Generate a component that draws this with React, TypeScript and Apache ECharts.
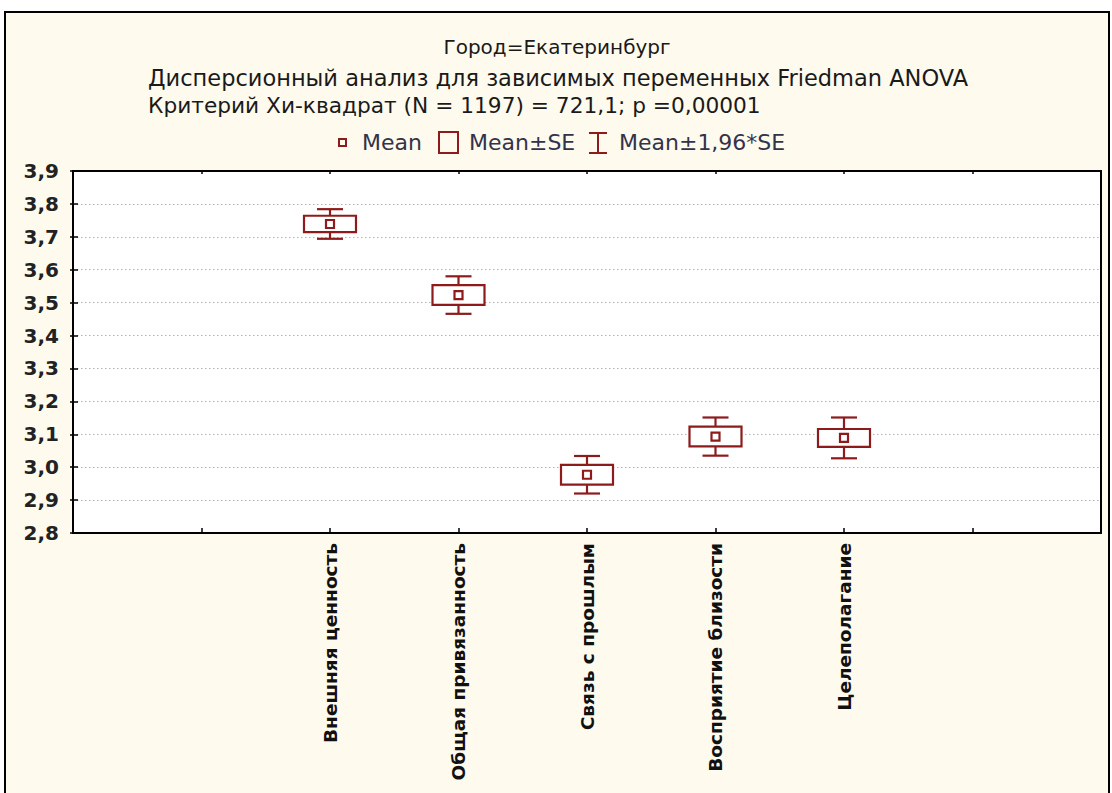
import React, { useEffect, useRef } from "react";
import * as echarts from "echarts";

const categories = [
  "Внешняя ценность",
  "Общая привязанность",
  "Связь с прошлым",
  "Восприятие близости",
  "Целеполагание",
];
const categoryPositions = [2, 3, 4, 5, 6];
const means = [3.739, 3.523, 2.977, 3.093, 3.089];
const se = [0.025, 0.03, 0.03, 0.03, 0.027];
const ci = [0.045, 0.057, 0.057, 0.058, 0.062];

const titleLines = [
  "Город=Екатеринбург",
  "Дисперсионный анализ для зависимых переменных Friedman ANOVA",
  "Критерий Хи-квадрат (N = 1197) = 721,1; p =0,00001",
];
const legendLabels = ["Mean", "Mean±SE", "Mean±1,96*SE"];

const RED = "#8e1b1b";
const FONT = "DejaVu Sans";
const TEXT_DARK = "#1a1a1a";
const LEGEND_TEXT = "#33334a";

export default function App() {
  const ref = useRef<HTMLDivElement>(null);
  useEffect(() => {
    if (!ref.current) return;
    const chart = echarts.init(ref.current, null, { renderer: "svg" });
    const data = means.map((m, i) => [categoryPositions[i], m, se[i], ci[i]]);
    const legendFont = `22px "${FONT}"`;
    const tickStyle = { color: "#000", width: 1.5 };
    chart.setOption({
      animation: false,
      backgroundColor: "#ffffff",
      graphic: [
        {
          type: "rect",
          z: -10,
          silent: true,
          shape: { x: 5, y: 12, width: 1104, height: 800 },
          style: { fill: "#fffaee", stroke: "#000", lineWidth: 2 },
        },
        {
          type: "text",
          x: 557,
          y: 47,
          style: { fill: TEXT_DARK, font: `20px "${FONT}"`, text: titleLines[0], textAlign: "center", textVerticalAlign: "middle" },
        },
        {
          type: "text",
          x: 148,
          y: 78,
          style: { fill: TEXT_DARK, font: `22.5px "${FONT}"`, text: titleLines[1], textAlign: "left", textVerticalAlign: "middle" },
        },
        {
          type: "text",
          x: 148,
          y: 105,
          style: { fill: TEXT_DARK, font: `21.7px "${FONT}"`, text: titleLines[2], textAlign: "left", textVerticalAlign: "middle" },
        },
        // legend
        {
          type: "rect",
          shape: { x: 339, y: 139, width: 7, height: 7 },
          style: { fill: "none", stroke: RED, lineWidth: 2 },
        },
        {
          type: "text",
          x: 362,
          y: 142,
          style: { text: legendLabels[0], fill: LEGEND_TEXT, font: legendFont, textVerticalAlign: "middle" },
        },
        {
          type: "rect",
          shape: { x: 439, y: 132, width: 19, height: 21 },
          style: { fill: "none", stroke: RED, lineWidth: 2 },
        },
        {
          type: "text",
          x: 469,
          y: 142,
          style: { text: legendLabels[1], fill: LEGEND_TEXT, font: legendFont, textVerticalAlign: "middle" },
        },
        {
          type: "polyline",
          shape: { points: [[589, 133], [607, 133]] },
          style: { stroke: RED, lineWidth: 2 },
        },
        {
          type: "polyline",
          shape: { points: [[589, 153], [607, 153]] },
          style: { stroke: RED, lineWidth: 2 },
        },
        {
          type: "polyline",
          shape: { points: [[598, 133], [598, 153]] },
          style: { stroke: RED, lineWidth: 2 },
        },
        {
          type: "text",
          x: 619,
          y: 142,
          style: { text: legendLabels[2], fill: LEGEND_TEXT, font: legendFont, textVerticalAlign: "middle" },
        },
      ],
      grid: {
        left: 73,
        right: 11,
        top: 171,
        bottom: 260,
        show: true,
        backgroundColor: "#ffffff",
        borderColor: "#000",
        borderWidth: 2,
      },
      xAxis: [
        {
          type: "value",
          min: 0,
          max: 8,
          interval: 1,
          position: "bottom",
          axisLine: { show: true, lineStyle: { color: "#000", width: 2 } },
          axisTick: { show: true, inside: true, length: 5, lineStyle: tickStyle },
          splitLine: { show: false },
          axisLabel: {
            rotate: 90,
            margin: 10,
            fontFamily: FONT,
            fontWeight: "bold",
            fontSize: 18.5,
            color: "#111",
            showMinLabel: false,
            showMaxLabel: false,
            formatter: (v: number) => {
              const idx = categoryPositions.indexOf(Math.round(v));
              return idx >= 0 ? categories[idx] : "";
            },
          },
        },
        {
          type: "value",
          min: 0,
          max: 8,
          interval: 1,
          position: "top",
          axisLine: { show: true, lineStyle: { color: "#000", width: 2 } },
          axisTick: { show: true, inside: true, length: 3, lineStyle: tickStyle },
          splitLine: { show: false },
          axisLabel: { show: false },
        },
      ],
      yAxis: [
        {
          type: "value",
          min: 2.8,
          max: 3.9,
          interval: 0.1,
          position: "left",
          axisLine: { show: true, lineStyle: { color: "#000", width: 2 } },
          axisTick: { show: true, inside: true, length: 5, lineStyle: tickStyle },
          splitLine: { show: true, lineStyle: { color: "#b5b5b5", type: [1.5, 2.5], width: 1.2 } },
          axisLabel: {
            margin: 14,
            fontFamily: FONT,
            fontWeight: "bold",
            fontSize: 20,
            color: "#222",
            formatter: (v: number) => v.toFixed(1).replace(".", ","),
          },
        },
        {
          type: "value",
          min: 2.8,
          max: 3.9,
          interval: 0.1,
          position: "right",
          axisLine: { show: true, lineStyle: { color: "#000", width: 2 } },
          axisTick: { show: true, inside: true, length: 3, lineStyle: tickStyle },
          splitLine: { show: false },
          axisLabel: { show: false },
        },
      ],
      series: [
        {
          type: "custom",
          xAxisIndex: 0,
          yAxisIndex: 0,
          data,
          z: 5,
          renderItem: (params: any, api: any) => {
            const x = api.value(0);
            const m = api.value(1);
            const s = api.value(2);
            const c = api.value(3);
            const pm = api.coord([x, m]);
            const pTopBox = api.coord([x, m + s]);
            const pBotBox = api.coord([x, m - s]);
            const pTopW = api.coord([x, m + c]);
            const pBotW = api.coord([x, m - c]);
            const cx = pm[0];
            const bw = 26;
            const cw = 13;
            const style = { stroke: RED, lineWidth: 2.2, fill: "none" };
            return {
              type: "group",
              children: [
                { type: "line", shape: { x1: cx, y1: pTopW[1], x2: cx, y2: pTopBox[1] }, style },
                { type: "line", shape: { x1: cx, y1: pBotBox[1], x2: cx, y2: pBotW[1] }, style },
                { type: "line", shape: { x1: cx - cw, y1: pTopW[1], x2: cx + cw, y2: pTopW[1] }, style },
                { type: "line", shape: { x1: cx - cw, y1: pBotW[1], x2: cx + cw, y2: pBotW[1] }, style },
                {
                  type: "rect",
                  shape: { x: cx - bw, y: pTopBox[1], width: 2 * bw, height: pBotBox[1] - pTopBox[1] },
                  style: { ...style, fill: "#fff" },
                },
                {
                  type: "rect",
                  shape: { x: cx - 4, y: pm[1] - 4, width: 8, height: 8 },
                  style: { ...style, fill: "#fff" },
                },
              ],
            };
          },
        },
      ],
    });
    return () => chart.dispose();
  }, []);
  return (
    <div
      ref={ref}
      style={{ position: "fixed", left: 0, top: 0, width: 1112, height: 793 }}
    />
  );
}
